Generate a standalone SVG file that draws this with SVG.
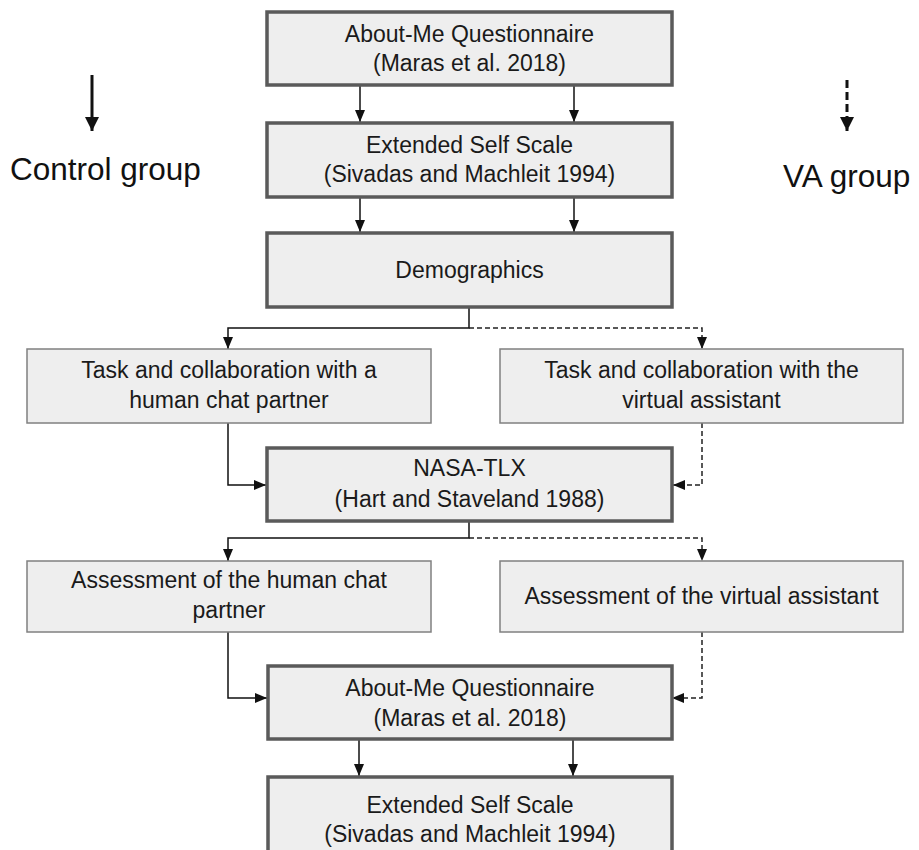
<svg xmlns="http://www.w3.org/2000/svg" width="919" height="850" viewBox="0 0 919 850">
<style>
  .main { fill: #eeeeee; stroke: #5a5a5a; stroke-width: 3.5; }
  .side { fill: #eeeeee; stroke: #808080; stroke-width: 1.5; }
  .t { font-family: "Liberation Sans", Arial, sans-serif; font-size: 23px; fill: #1a1a1a; text-anchor: middle; }
  .leg { font-family: "Liberation Sans", Arial, sans-serif; font-size: 31.5px; fill: #111111; }
  .c { fill: none; stroke: #111111; stroke-width: 1.5; }
  .d { fill: none; stroke: #222222; stroke-width: 1.5; stroke-dasharray: 5 3; }
</style>
<defs>
  <marker id="ah" viewBox="0 0 12 10" refX="12" refY="5" markerWidth="12" markerHeight="10" markerUnits="userSpaceOnUse" orient="auto">
    <path d="M0,0 L12,5 L0,10 Z" fill="#111111"/>
  </marker>
  <marker id="ahl" viewBox="0 0 14 14" refX="14" refY="7" markerWidth="14" markerHeight="14" markerUnits="userSpaceOnUse" orient="auto">
    <path d="M0,0 L14,7 L0,14 Z" fill="#111111"/>
  </marker>
</defs>

<g id="legend">
  <line x1="92" y1="75" x2="92" y2="131" stroke="#111111" stroke-width="3" marker-end="url(#ahl)"/>
  <text class="leg" x="10" y="180">Control group</text>
  <line x1="847" y1="80" x2="847" y2="131" stroke="#111111" stroke-width="3" stroke-dasharray="8 4" marker-end="url(#ahl)"/>
  <text class="leg" x="783" y="187">VA group</text>
</g>

<g id="connectors">
  <line class="c" x1="360" y1="86" x2="360" y2="122" marker-end="url(#ah)"/>
  <line class="c" x1="574" y1="86" x2="574" y2="122" marker-end="url(#ah)"/>
  <line class="c" x1="360" y1="198" x2="360" y2="232" marker-end="url(#ah)"/>
  <line class="c" x1="574" y1="198" x2="574" y2="232" marker-end="url(#ah)"/>
  <path class="c" d="M469,308 V328 H228 V349" marker-end="url(#ah)"/>
  <path class="d" d="M469,328 H702 V349" marker-end="url(#ah)"/>
  <path class="c" d="M228,423 V485 H266" marker-end="url(#ah)"/>
  <path class="d" d="M702,423 V485 H673" marker-end="url(#ah)"/>
  <path class="c" d="M469,522 V538 H228 V561" marker-end="url(#ah)"/>
  <path class="d" d="M469,538 H702 V561" marker-end="url(#ah)"/>
  <path class="c" d="M228,632 V698 H267" marker-end="url(#ah)"/>
  <path class="d" d="M702,632 V698 H672" marker-end="url(#ah)"/>
  <line class="c" x1="359" y1="740" x2="359" y2="776" marker-end="url(#ah)"/>
  <line class="c" x1="573" y1="740" x2="573" y2="776" marker-end="url(#ah)"/>
</g>

<g id="about-me-1">
  <rect class="main" x="267" y="12" width="405" height="73"/>
  <text class="t" x="469.5" y="42">About-Me Questionnaire</text>
  <text class="t" x="469.5" y="71">(Maras et al. 2018)</text>
</g>
<g id="extended-self-1">
  <rect class="main" x="267" y="123" width="405" height="74"/>
  <text class="t" x="469.5" y="153">Extended Self Scale</text>
  <text class="t" x="469.5" y="182">(Sivadas and Machleit 1994)</text>
</g>
<g id="demographics">
  <rect class="main" x="267" y="233" width="405" height="74"/>
  <text class="t" x="469.5" y="278">Demographics</text>
</g>
<g id="task-human">
  <rect class="side" x="27" y="349" width="404" height="74"/>
  <text class="t" x="229" y="378">Task and collaboration with a</text>
  <text class="t" x="229" y="408">human chat partner</text>
</g>
<g id="task-va">
  <rect class="side" x="500" y="349" width="403" height="74"/>
  <text class="t" x="701.5" y="378">Task and collaboration with the</text>
  <text class="t" x="701.5" y="408">virtual assistant</text>
</g>
<g id="nasa-tlx">
  <rect class="main" x="267" y="448" width="405" height="73"/>
  <text class="t" x="469.5" y="476">NASA-TLX</text>
  <text class="t" x="469.5" y="507">(Hart and Staveland 1988)</text>
</g>
<g id="assess-human">
  <rect class="side" x="27" y="561" width="404" height="71"/>
  <text class="t" x="229" y="588">Assessment of the human chat</text>
  <text class="t" x="229" y="618">partner</text>
</g>
<g id="assess-va">
  <rect class="side" x="500" y="561" width="403" height="71"/>
  <text class="t" x="701.5" y="604">Assessment of the virtual assistant</text>
</g>
<g id="about-me-2">
  <rect class="main" x="268" y="666" width="404" height="73"/>
  <text class="t" x="470" y="696">About-Me Questionnaire</text>
  <text class="t" x="470" y="726">(Maras et al. 2018)</text>
</g>
<g id="extended-self-2">
  <rect class="main" x="268" y="777" width="404" height="80"/>
  <text class="t" x="470" y="813">Extended Self Scale</text>
  <text class="t" x="470" y="842">(Sivadas and Machleit 1994)</text>
</g>
</svg>
